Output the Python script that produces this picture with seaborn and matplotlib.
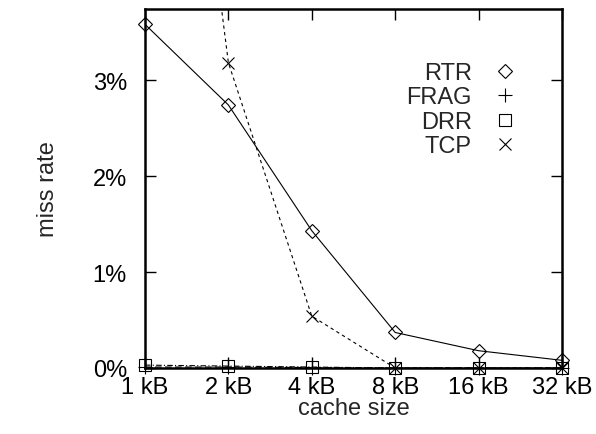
import matplotlib
matplotlib.use("Agg")
import matplotlib.pyplot as plt
import seaborn as sns
import pandas as pd
from matplotlib.lines import Line2D

cache_kb = [1, 2, 4, 8, 16, 32]
tick_labels = ["1 kB", "2 kB", "4 kB", "8 kB", "16 kB", "32 kB"]
rtr = [3.58, 2.74, 1.43, 0.37, 0.18, 0.08]
frag = [0.01, 0.01, 0.005, 0.0, 0.0, 0.0]
drr = [0.03, 0.02, 0.01, 0.0, 0.0, 0.0]
tcp = [10.0, 3.18, 0.54, 0.0, 0.0, 0.0]
y_ticks = [0, 1, 2, 3]
y_labels = ["0%", "1%", "2%", "3%"]

sns.set_style("white")
plt.rcParams['font.family'] = ['Liberation Sans', 'DejaVu Sans']
FS = 17
YMAX = 3.74

fig = plt.figure(figsize=(5.96, 4.35), dpi=100)
ax = fig.add_axes([145/596, 66/435, (562-145)/596, (369-10)/435])

series = [
    ("RTR", rtr, "D", (0, ()), 7),
    ("FRAG", frag, "+", (0, (6, 3)), 10),
    ("DRR", drr, "s", (0, (5, 2, 1, 2)), 9),
    ("TCP", tcp, "x", (0, (3, 3)), 9),
]

handles = []
for name, vals, mk, ls, ms in series:
    df = pd.DataFrame({"cache": cache_kb, "rate": vals})
    sns.lineplot(data=df, x="cache", y="rate", ax=ax, color="black",
                 linewidth=0.8, linestyle=ls, legend=False)
    vis = df[df["rate"] <= YMAX]
    n_before = len(ax.lines)
    sns.lineplot(data=vis, x="cache", y="rate", ax=ax, color="black",
                 linestyle="none", marker=mk, markersize=ms,
                 markerfacecolor="none", markeredgecolor="black",
                 markeredgewidth=0.8, legend=False)
    for ln in ax.lines[n_before:]:
        ln.set_clip_on(False)
        ln.set_zorder(5)
    handles.append(Line2D([], [], linestyle="none", marker=mk, markersize=ms,
                          markerfacecolor="none", markeredgecolor="black",
                          markeredgewidth=0.8, label=name))

ax.set_xscale("log", base=2)
ax.set_xlim(1, 32)
ax.set_ylim(0, YMAX)
ax.set_xticks(cache_kb)
ax.set_xticklabels(tick_labels, fontsize=FS)
ax.minorticks_off()
ax.set_yticks(y_ticks)
ax.set_yticklabels(y_labels, fontsize=FS)
ax.tick_params(direction="in", length=8, width=1, top=True, right=True,
               bottom=True, left=True, colors="black")
ax.tick_params(axis="y", pad=13)
ax.tick_params(axis="x", pad=6)
ax.set_xlabel("cache size", fontsize=FS, labelpad=-1)
ax.set_ylabel("miss rate", fontsize=FS, labelpad=24)
for sp in ax.spines.values():
    sp.set_linewidth(1.8)
    sp.set_color("black")

leg = ax.legend(handles=handles, loc="upper right", bbox_to_anchor=(0.925, 0.885),
                frameon=False, markerfirst=False, fontsize=FS,
                handlelength=1.2, handletextpad=0.8, labelspacing=0.1,
                borderpad=0)
for t in leg.get_texts():
    t.set_ha("right")

fig.savefig("out.png", dpi=100)
